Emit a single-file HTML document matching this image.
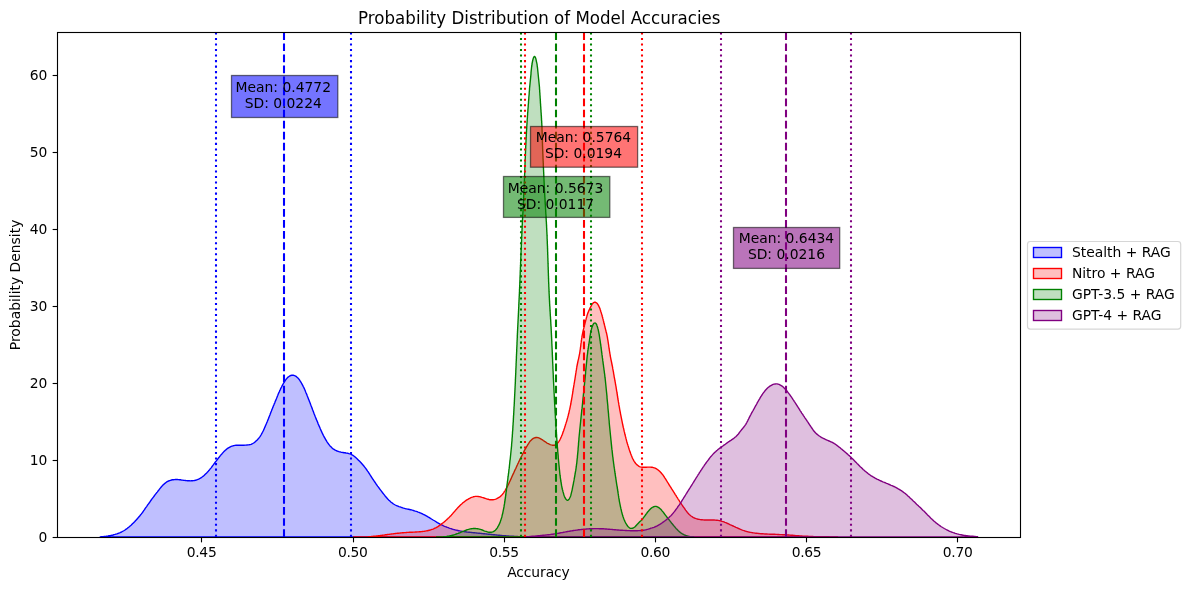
<!DOCTYPE html>
<html lang="en"><head><meta charset="utf-8"><title>Probability Distribution of Model Accuracies</title>
<style>html,body{margin:0;padding:0;background:#fff}svg{display:block}text{font-family:"DejaVu Sans","Liberation Sans",sans-serif;fill:#000}</style></head><body>
<svg width="1189" height="590" viewBox="0 0 1189 590">
<rect width="1189" height="590" fill="#fff"/>
<defs><clipPath id="ax"><rect x="57.0" y="32.2" width="963.2" height="504.7"/></clipPath></defs>
<g clip-path="url(#ax)">
<path d="M100.2 536.9L100.2 536.9L101.2 536.8L102.2 536.7L103.2 536.6L104.2 536.5L105.2 536.4L106.2 536.3L107.2 536.1L108.1 536.0L109.1 535.8L110.1 535.6L111.1 535.4L112.1 535.2L113.1 535.0L114.0 534.7L115.0 534.4L115.9 534.1L116.9 533.8L117.8 533.5L118.8 533.1L119.7 532.8L120.6 532.4L121.6 532.0L122.4 531.5L123.3 531.0L124.2 530.5L125.0 530.0L125.8 529.4L126.6 528.9L127.4 528.3L128.2 527.6L129.0 527.0L129.8 526.3L130.5 525.7L131.3 525.0L132.0 524.3L132.7 523.6L133.4 522.9L134.1 522.2L134.8 521.5L135.5 520.7L136.2 520.0L136.9 519.3L137.5 518.5L138.2 517.8L138.8 517.0L139.5 516.2L140.1 515.5L140.7 514.7L141.4 513.9L142.0 513.1L142.6 512.3L143.2 511.5L143.7 510.7L144.3 509.9L144.9 509.0L145.4 508.2L146.0 507.4L146.6 506.6L147.2 505.7L147.7 504.9L148.3 504.1L148.9 503.3L149.5 502.5L150.1 501.7L150.6 500.8L151.2 500.0L151.8 499.2L152.4 498.4L153.0 497.6L153.6 496.8L154.2 496.0L154.8 495.2L155.4 494.4L156.0 493.6L156.6 492.8L157.2 492.1L157.8 491.3L158.4 490.5L159.1 489.7L159.7 488.9L160.3 488.1L161.0 487.3L161.6 486.5L162.3 485.8L163.0 485.0L163.7 484.4L164.4 483.7L165.2 483.1L166.0 482.5L166.8 481.9L167.7 481.4L168.6 481.0L169.6 480.6L170.5 480.3L171.5 480.0L172.4 479.8L173.4 479.7L174.4 479.6L175.5 479.5L176.5 479.5L177.4 479.5L178.4 479.6L179.4 479.7L180.4 479.8L181.4 480.0L182.4 480.1L183.4 480.3L184.4 480.4L185.4 480.5L186.4 480.6L187.4 480.7L188.4 480.8L189.4 480.8L190.4 480.9L191.4 480.8L192.4 480.8L193.4 480.6L194.4 480.5L195.4 480.3L196.3 480.0L197.3 479.7L198.2 479.3L199.1 478.9L200.0 478.4L200.8 477.9L201.7 477.3L202.5 476.7L203.3 476.1L204.1 475.5L204.8 474.8L205.5 474.1L206.2 473.4L206.9 472.7L207.6 471.9L208.3 471.2L208.9 470.4L209.6 469.7L210.2 468.9L210.9 468.1L211.5 467.3L212.1 466.5L212.7 465.7L213.3 464.9L213.8 464.1L214.4 463.3L215.0 462.5L215.6 461.7L216.3 460.9L216.9 460.1L217.5 459.3L218.1 458.5L218.7 457.7L219.3 457.0L219.9 456.2L220.6 455.4L221.2 454.6L221.9 453.9L222.5 453.1L223.2 452.4L223.9 451.6L224.6 450.9L225.3 450.2L226.1 449.6L226.8 449.0L227.6 448.4L228.5 447.8L229.4 447.3L230.3 446.8L231.2 446.4L232.1 446.1L233.1 445.8L234.0 445.6L235.0 445.4L236.0 445.3L237.0 445.2L238.0 445.2L239.0 445.2L240.0 445.2L241.0 445.2L242.0 445.2L243.0 445.2L244.0 445.2L245.0 445.1L246.0 445.1L247.0 445.0L248.0 444.9L249.0 444.8L250.0 444.6L251.0 444.3L251.9 444.0L252.8 443.5L253.7 443.0L254.5 442.4L255.3 441.8L256.0 441.1L256.7 440.4L257.4 439.7L258.1 438.9L258.8 438.2L259.4 437.4L260.0 436.6L260.5 435.8L261.0 435.0L261.5 434.1L262.0 433.2L262.5 432.3L262.9 431.5L263.4 430.5L263.8 429.6L264.2 428.7L264.6 427.8L265.0 426.9L265.4 425.9L265.8 425.0L266.2 424.1L266.6 423.1L267.0 422.2L267.4 421.3L267.8 420.3L268.2 419.4L268.5 418.5L268.9 417.6L269.2 416.6L269.6 415.7L270.0 414.8L270.3 413.8L270.7 412.9L271.0 412.0L271.4 411.1L271.8 410.1L272.1 409.2L272.5 408.3L272.9 407.4L273.2 406.4L273.6 405.5L274.0 404.6L274.4 403.6L274.8 402.7L275.1 401.8L275.5 400.9L275.9 399.9L276.3 399.0L276.6 398.1L277.0 397.2L277.4 396.2L277.8 395.3L278.1 394.4L278.5 393.5L278.9 392.6L279.3 391.7L279.7 390.7L280.2 389.8L280.6 388.9L281.0 388.0L281.5 387.1L281.9 386.2L282.4 385.3L282.9 384.4L283.4 383.5L283.9 382.7L284.4 381.8L284.9 381.0L285.5 380.1L286.1 379.3L286.7 378.6L287.4 377.8L288.1 377.1L289.0 376.5L289.9 375.9L290.8 375.5L291.8 375.3L292.7 375.2L293.6 375.3L294.6 375.7L295.6 376.1L296.5 376.7L297.3 377.4L298.0 378.1L298.6 378.8L299.3 379.6L299.8 380.4L300.4 381.3L300.9 382.1L301.4 383.0L301.9 383.9L302.4 384.8L302.9 385.7L303.3 386.6L303.8 387.5L304.2 388.4L304.6 389.3L305.0 390.2L305.4 391.1L305.7 392.0L306.1 393.0L306.5 393.9L306.9 394.8L307.2 395.8L307.6 396.7L308.0 397.6L308.3 398.6L308.7 399.5L309.1 400.4L309.4 401.4L309.8 402.3L310.2 403.2L310.5 404.2L310.9 405.1L311.2 406.0L311.6 407.0L311.9 407.9L312.3 408.8L312.6 409.8L313.0 410.7L313.3 411.6L313.7 412.6L314.0 413.5L314.4 414.4L314.8 415.4L315.1 416.3L315.5 417.2L315.9 418.2L316.2 419.1L316.6 420.0L317.0 420.9L317.4 421.8L317.8 422.8L318.1 423.7L318.5 424.6L318.9 425.5L319.3 426.4L319.7 427.3L320.1 428.3L320.5 429.2L320.9 430.1L321.3 431.0L321.7 431.9L322.1 432.8L322.5 433.7L323.0 434.6L323.4 435.5L323.9 436.4L324.4 437.3L324.9 438.2L325.4 439.1L325.9 440.0L326.5 440.9L327.0 441.8L327.6 442.7L328.2 443.5L328.8 444.3L329.4 445.1L330.0 445.9L330.7 446.6L331.4 447.3L332.1 448.0L332.8 448.6L333.6 449.2L334.4 449.7L335.2 450.2L336.2 450.6L337.1 451.0L338.1 451.3L339.1 451.7L340.1 451.9L341.0 452.2L342.0 452.4L343.0 452.5L344.0 452.7L345.0 452.8L346.0 453.0L347.0 453.1L348.0 453.3L348.9 453.6L349.9 453.9L350.8 454.2L351.6 454.7L352.5 455.2L353.4 455.7L354.2 456.3L355.0 456.9L355.8 457.6L356.5 458.3L357.3 459.0L358.0 459.7L358.7 460.4L359.4 461.1L360.1 461.8L360.8 462.5L361.5 463.3L362.1 464.0L362.8 464.8L363.4 465.5L364.1 466.3L364.7 467.1L365.3 467.9L365.9 468.7L366.5 469.5L367.1 470.3L367.6 471.1L368.2 471.9L368.8 472.8L369.3 473.6L369.8 474.4L370.4 475.3L370.9 476.1L371.4 477.0L372.0 477.8L372.5 478.7L373.1 479.5L373.7 480.3L374.2 481.2L374.8 482.0L375.4 482.8L375.9 483.6L376.5 484.5L377.1 485.3L377.6 486.1L378.2 486.9L378.8 487.7L379.4 488.5L380.0 489.3L380.6 490.1L381.2 490.9L381.8 491.7L382.4 492.5L383.0 493.3L383.7 494.1L384.3 494.9L384.9 495.7L385.6 496.5L386.2 497.2L386.9 498.0L387.5 498.7L388.2 499.4L388.9 500.2L389.6 500.8L390.4 501.5L391.1 502.2L391.9 502.8L392.7 503.4L393.5 504.0L394.4 504.5L395.3 505.0L396.1 505.4L397.1 505.8L398.0 506.2L398.9 506.6L399.9 506.9L400.8 507.2L401.8 507.5L402.7 507.8L403.7 508.1L404.6 508.4L405.6 508.7L406.6 508.9L407.6 509.1L408.5 509.3L409.5 509.5L410.5 509.7L411.5 509.9L412.4 510.2L413.4 510.5L414.4 510.8L415.3 511.1L416.3 511.4L417.2 511.7L418.1 512.1L419.1 512.4L420.0 512.8L420.9 513.2L421.8 513.6L422.7 514.0L423.6 514.5L424.5 514.9L425.4 515.4L426.3 515.9L427.2 516.4L428.0 516.9L428.9 517.4L429.7 517.9L430.6 518.4L431.4 519.0L432.3 519.5L433.1 520.0L434.0 520.5L434.9 521.0L435.7 521.5L436.6 522.1L437.4 522.6L438.3 523.1L439.2 523.6L440.0 524.1L440.9 524.5L441.8 525.0L442.7 525.4L443.6 525.9L444.5 526.3L445.5 526.7L446.4 527.0L447.3 527.4L448.3 527.7L449.2 528.1L450.1 528.4L451.1 528.7L452.0 529.0L453.0 529.3L454.0 529.6L454.9 529.8L455.9 530.1L456.9 530.3L457.8 530.5L458.8 530.7L459.8 530.9L460.8 531.1L461.8 531.3L462.8 531.4L463.8 531.6L464.8 531.7L465.7 531.8L466.7 532.0L467.7 532.1L468.7 532.2L469.7 532.3L470.7 532.4L471.7 532.5L472.7 532.6L473.7 532.7L474.7 532.8L475.7 532.9L476.7 533.0L477.7 533.1L478.7 533.2L479.7 533.3L480.7 533.4L481.7 533.5L482.6 533.6L483.6 533.7L484.6 533.8L485.6 533.9L486.6 534.0L487.6 534.1L488.6 534.2L489.6 534.3L490.6 534.4L491.6 534.5L492.6 534.6L493.6 534.7L494.6 534.8L495.6 534.9L496.6 535.0L497.6 535.1L498.6 535.2L499.6 535.3L500.6 535.4L501.6 535.5L502.6 535.6L503.6 535.6L504.5 535.7L505.5 535.8L506.5 535.9L507.5 536.0L508.5 536.0L509.5 536.1L510.5 536.2L511.5 536.2L512.5 536.3L513.5 536.3L514.5 536.4L515.5 536.4L516.5 536.5L517.5 536.5L518.5 536.6L519.5 536.6L520.5 536.6L521.5 536.7L522.5 536.7L523.5 536.7L524.5 536.8L525.5 536.8L526.5 536.8L527.5 536.8L528.5 536.8L529.5 536.9L530.5 536.9L531.5 536.9L532.5 536.9L533.5 536.9L534.5 536.9L535.5 536.9L536.5 536.9L537.5 536.9L538.5 536.9L539.5 536.9L540.0 536.9L540.0 536.9Z" fill="#0000ff" fill-opacity="0.25" stroke="#0000ff" stroke-width="1.39" stroke-linejoin="round"/>
<path d="M353.6 536.9L353.6 536.9L354.6 536.9L355.6 536.9L356.6 536.9L357.6 536.9L358.6 536.9L359.6 536.9L360.6 536.9L361.6 536.9L362.6 536.9L363.6 536.9L364.6 536.9L365.6 536.9L366.6 536.9L367.6 536.9L368.6 536.8L369.6 536.7L370.6 536.6L371.6 536.5L372.6 536.4L373.6 536.3L374.6 536.2L375.6 536.1L376.6 536.0L377.6 535.9L378.6 535.7L379.6 535.6L380.5 535.5L381.5 535.4L382.5 535.2L383.5 535.1L384.5 535.0L385.5 534.8L386.5 534.7L387.5 534.5L388.5 534.4L389.5 534.3L390.5 534.1L391.4 534.0L392.4 533.9L393.4 533.8L394.4 533.6L395.4 533.5L396.4 533.4L397.4 533.3L398.4 533.2L399.4 533.1L400.4 533.0L401.4 532.9L402.4 532.8L403.4 532.7L404.4 532.6L405.4 532.6L406.4 532.5L407.4 532.4L408.4 532.4L409.4 532.3L410.4 532.3L411.4 532.2L412.4 532.2L413.4 532.1L414.4 532.1L415.4 532.0L416.4 532.0L417.4 531.9L418.4 531.9L419.4 531.8L420.4 531.7L421.4 531.6L422.4 531.5L423.3 531.4L424.3 531.3L425.3 531.1L426.3 530.9L427.3 530.7L428.3 530.5L429.3 530.3L430.2 530.0L431.2 529.7L432.1 529.4L433.1 529.1L434.0 528.7L434.9 528.2L435.7 527.8L436.6 527.3L437.5 526.8L438.3 526.3L439.2 525.7L440.0 525.1L440.8 524.5L441.6 523.9L442.4 523.3L443.2 522.7L444.0 522.1L444.8 521.4L445.5 520.8L446.3 520.1L447.0 519.4L447.7 518.8L448.4 518.1L449.2 517.4L449.9 516.6L450.6 515.9L451.3 515.2L451.9 514.4L452.6 513.7L453.2 512.9L453.9 512.2L454.5 511.4L455.2 510.7L455.8 509.9L456.5 509.2L457.2 508.4L457.8 507.7L458.5 507.0L459.3 506.2L460.0 505.5L460.7 504.8L461.4 504.2L462.2 503.5L462.9 502.8L463.7 502.2L464.5 501.6L465.3 501.0L466.1 500.4L466.9 499.8L467.8 499.3L468.6 498.8L469.6 498.3L470.5 497.8L471.4 497.4L472.4 497.1L473.3 496.8L474.3 496.6L475.3 496.4L476.2 496.4L477.2 496.4L478.2 496.5L479.2 496.6L480.2 496.8L481.2 497.1L482.1 497.4L483.1 497.7L484.1 498.0L485.1 498.3L486.1 498.7L487.1 499.0L488.1 499.2L489.0 499.5L490.0 499.7L491.0 499.8L492.0 499.8L492.9 499.8L493.9 499.6L494.8 499.4L495.8 499.1L496.8 498.7L497.7 498.2L498.6 497.7L499.5 497.2L500.3 496.5L501.0 495.9L501.7 495.1L502.4 494.4L503.0 493.6L503.6 492.8L504.1 492.0L504.7 491.1L505.2 490.3L505.7 489.4L506.2 488.5L506.7 487.6L507.2 486.7L507.7 485.8L508.1 484.9L508.6 484.0L509.0 483.1L509.4 482.2L509.8 481.3L510.3 480.4L510.7 479.5L511.1 478.6L511.5 477.7L511.9 476.8L512.3 475.9L512.7 475.0L513.1 474.1L513.6 473.1L514.0 472.2L514.4 471.3L514.8 470.4L515.2 469.5L515.7 468.6L516.1 467.7L516.5 466.8L516.9 465.9L517.3 465.0L517.7 464.0L518.2 463.1L518.6 462.2L519.0 461.3L519.5 460.4L519.9 459.5L520.3 458.6L520.8 457.8L521.2 456.9L521.7 456.0L522.1 455.1L522.6 454.2L523.0 453.3L523.5 452.5L523.9 451.6L524.4 450.7L524.8 449.8L525.3 448.9L525.8 448.1L526.3 447.2L526.8 446.3L527.4 445.4L527.9 444.5L528.5 443.6L529.0 442.8L529.6 441.9L530.2 441.1L530.9 440.4L531.6 439.7L532.3 439.1L533.1 438.5L534.0 438.1L535.0 437.7L536.0 437.5L537.0 437.5L537.9 437.6L538.8 437.9L539.8 438.3L540.7 438.8L541.6 439.4L542.5 439.9L543.3 440.5L544.2 441.1L545.0 441.7L545.9 442.2L546.7 442.8L547.5 443.3L548.4 443.7L549.3 444.2L550.2 444.6L551.2 444.9L552.3 445.2L553.3 445.3L554.2 445.3L555.1 445.0L555.9 444.6L556.7 444.0L557.4 443.3L558.1 442.5L558.8 441.6L559.4 440.7L559.9 439.8L560.4 438.8L560.8 437.9L561.2 437.0L561.6 436.0L562.0 435.1L562.4 434.2L562.7 433.2L563.0 432.3L563.4 431.4L563.7 430.5L564.0 429.5L564.3 428.6L564.6 427.7L564.9 426.7L565.2 425.8L565.5 424.8L565.8 423.9L566.1 422.9L566.4 422.0L566.7 421.0L567.0 420.1L567.2 419.1L567.5 418.1L567.8 417.2L568.0 416.2L568.3 415.2L568.5 414.2L568.8 413.3L569.0 412.3L569.2 411.3L569.4 410.3L569.7 409.4L569.9 408.4L570.1 407.4L570.3 406.4L570.5 405.4L570.7 404.5L570.9 403.5L571.0 402.5L571.2 401.5L571.4 400.5L571.6 399.5L571.7 398.6L571.9 397.6L572.1 396.6L572.2 395.6L572.4 394.6L572.6 393.6L572.7 392.6L572.9 391.7L573.0 390.7L573.2 389.7L573.3 388.7L573.5 387.7L573.7 386.7L573.8 385.7L574.0 384.7L574.1 383.8L574.3 382.8L574.5 381.8L574.6 380.8L574.8 379.8L575.0 378.8L575.1 377.8L575.3 376.8L575.4 375.8L575.6 374.8L575.7 373.9L575.9 372.9L576.0 371.9L576.2 370.9L576.4 369.9L576.5 368.9L576.7 367.9L576.8 366.9L577.0 366.0L577.2 365.0L577.4 364.0L577.6 363.0L577.8 362.0L578.0 361.1L578.2 360.1L578.5 359.1L578.7 358.2L578.9 357.2L579.1 356.2L579.3 355.2L579.5 354.2L579.7 353.3L579.8 352.3L580.0 351.3L580.1 350.3L580.3 349.3L580.4 348.3L580.5 347.3L580.7 346.3L580.8 345.3L580.9 344.3L581.0 343.4L581.2 342.4L581.3 341.4L581.4 340.4L581.6 339.4L581.7 338.4L581.9 337.4L582.0 336.4L582.2 335.4L582.4 334.4L582.6 333.5L582.8 332.5L583.0 331.5L583.2 330.5L583.4 329.6L583.7 328.6L583.9 327.6L584.2 326.6L584.4 325.7L584.6 324.7L584.9 323.7L585.1 322.8L585.4 321.8L585.6 320.8L585.9 319.9L586.1 318.9L586.4 317.9L586.7 317.0L586.9 316.0L587.2 315.0L587.5 314.1L587.9 313.1L588.2 312.2L588.6 311.3L589.0 310.4L589.4 309.5L589.8 308.6L590.3 307.7L590.7 306.8L591.2 305.9L591.6 305.0L592.2 304.2L592.8 303.3L593.7 302.6L594.6 302.2L595.5 302.3L596.4 302.8L597.2 303.5L597.8 304.4L598.3 305.2L598.8 306.1L599.2 307.0L599.6 307.9L600.0 308.8L600.3 309.8L600.6 310.7L600.9 311.7L601.2 312.6L601.5 313.6L601.8 314.6L602.1 315.5L602.3 316.5L602.6 317.5L602.8 318.4L603.1 319.4L603.3 320.4L603.6 321.3L603.8 322.3L604.0 323.3L604.3 324.2L604.5 325.2L604.8 326.2L605.0 327.2L605.2 328.1L605.5 329.1L605.7 330.1L606.0 331.0L606.2 332.0L606.5 333.0L606.7 333.9L606.9 334.9L607.1 335.9L607.3 336.9L607.5 337.9L607.6 338.8L607.8 339.8L608.0 340.8L608.1 341.8L608.3 342.8L608.4 343.8L608.6 344.8L608.7 345.8L608.8 346.8L609.0 347.7L609.1 348.7L609.3 349.7L609.4 350.7L609.6 351.7L609.7 352.7L609.9 353.7L610.1 354.7L610.2 355.7L610.4 356.6L610.6 357.6L610.8 358.6L611.0 359.6L611.2 360.6L611.4 361.5L611.6 362.5L611.8 363.5L612.0 364.5L612.2 365.5L612.4 366.4L612.6 367.4L612.7 368.4L612.9 369.4L613.1 370.4L613.3 371.4L613.5 372.3L613.6 373.3L613.8 374.3L614.0 375.3L614.1 376.3L614.3 377.3L614.5 378.3L614.7 379.2L614.8 380.2L615.0 381.2L615.2 382.2L615.4 383.2L615.5 384.2L615.7 385.2L615.9 386.1L616.1 387.1L616.2 388.1L616.4 389.1L616.5 390.1L616.7 391.1L616.9 392.1L617.0 393.0L617.2 394.0L617.3 395.0L617.5 396.0L617.6 397.0L617.8 398.0L617.9 399.0L618.1 400.0L618.3 400.9L618.4 401.9L618.6 402.9L618.8 403.9L618.9 404.9L619.1 405.9L619.3 406.9L619.5 407.9L619.6 408.8L619.8 409.8L620.0 410.8L620.2 411.8L620.4 412.8L620.5 413.8L620.7 414.7L620.9 415.7L621.1 416.7L621.3 417.7L621.5 418.7L621.7 419.6L621.9 420.6L622.1 421.6L622.3 422.6L622.5 423.6L622.7 424.5L622.9 425.5L623.1 426.5L623.3 427.5L623.6 428.4L623.8 429.4L624.0 430.4L624.2 431.4L624.5 432.3L624.7 433.3L624.9 434.3L625.2 435.3L625.4 436.2L625.7 437.2L625.9 438.2L626.2 439.1L626.4 440.1L626.7 441.1L626.9 442.0L627.2 443.0L627.5 444.0L627.8 444.9L628.1 445.9L628.4 446.8L628.7 447.8L629.0 448.7L629.3 449.7L629.6 450.6L629.9 451.6L630.3 452.5L630.6 453.4L631.0 454.4L631.3 455.3L631.7 456.2L632.1 457.2L632.5 458.1L632.9 459.0L633.4 459.9L633.9 460.8L634.4 461.6L635.0 462.5L635.6 463.4L636.3 464.1L637.1 464.9L637.9 465.5L638.7 466.1L639.5 466.6L640.3 466.9L641.2 467.1L642.2 467.3L643.2 467.3L644.3 467.3L645.3 467.2L646.4 467.2L647.4 467.1L648.4 467.1L649.4 467.1L650.4 467.1L651.5 467.2L652.5 467.3L653.4 467.6L654.3 467.9L655.2 468.2L656.1 468.7L657.0 469.2L657.8 469.8L658.6 470.4L659.4 471.1L660.1 471.8L660.8 472.5L661.5 473.3L662.1 474.1L662.8 474.8L663.4 475.6L663.9 476.5L664.5 477.3L665.0 478.1L665.6 479.0L666.1 479.8L666.6 480.7L667.1 481.5L667.6 482.4L668.2 483.2L668.7 484.1L669.2 485.0L669.8 485.8L670.3 486.7L670.9 487.5L671.4 488.4L671.9 489.2L672.5 490.1L673.0 490.9L673.5 491.7L674.1 492.6L674.6 493.4L675.1 494.3L675.7 495.1L676.2 495.9L676.7 496.8L677.3 497.6L677.8 498.5L678.3 499.3L678.9 500.2L679.4 501.0L679.9 501.9L680.5 502.7L681.0 503.5L681.6 504.4L682.2 505.2L682.7 506.0L683.3 506.8L683.9 507.6L684.5 508.4L685.1 509.3L685.6 510.1L686.2 510.9L686.8 511.7L687.4 512.5L688.1 513.2L688.8 514.0L689.5 514.7L690.2 515.3L691.0 516.0L691.9 516.5L692.7 517.1L693.6 517.6L694.5 518.0L695.4 518.4L696.3 518.7L697.3 519.0L698.3 519.3L699.3 519.4L700.2 519.6L701.2 519.7L702.2 519.8L703.2 519.9L704.2 520.0L705.2 520.0L706.2 520.0L707.2 520.0L708.2 520.0L709.2 520.0L710.2 520.0L711.2 520.0L712.2 520.0L713.2 520.0L714.2 520.0L715.2 520.1L716.2 520.2L717.2 520.3L718.2 520.4L719.2 520.6L720.2 520.8L721.2 521.0L722.1 521.3L723.1 521.6L724.0 521.9L724.9 522.3L725.9 522.7L726.8 523.1L727.7 523.5L728.6 523.9L729.5 524.3L730.4 524.8L731.3 525.2L732.2 525.6L733.1 526.0L734.0 526.4L735.0 526.8L735.9 527.3L736.8 527.7L737.7 528.1L738.6 528.5L739.5 528.9L740.4 529.3L741.3 529.7L742.3 530.1L743.2 530.4L744.2 530.7L745.1 531.1L746.1 531.3L747.0 531.6L748.0 531.8L749.0 532.1L750.0 532.3L750.9 532.4L751.9 532.6L752.9 532.8L753.9 532.9L754.9 533.1L755.9 533.2L756.9 533.3L757.9 533.4L758.9 533.5L759.9 533.6L760.9 533.7L761.9 533.8L762.9 533.8L763.9 533.9L764.9 534.0L765.9 534.0L766.9 534.0L767.9 534.1L768.9 534.1L769.9 534.2L770.9 534.2L771.9 534.2L772.9 534.3L773.9 534.3L774.9 534.3L775.8 534.4L776.8 534.4L777.8 534.5L778.8 534.5L779.8 534.6L780.8 534.6L781.8 534.6L782.8 534.7L783.8 534.7L784.8 534.8L785.8 534.9L786.8 534.9L787.8 535.0L788.8 535.0L789.8 535.1L790.8 535.2L791.8 535.3L792.8 535.3L793.8 535.4L794.8 535.5L795.8 535.6L796.8 535.7L797.8 535.7L798.8 535.8L799.8 535.9L800.8 536.0L801.8 536.0L802.8 536.1L803.8 536.1L804.8 536.2L805.8 536.2L806.8 536.3L807.8 536.3L808.8 536.4L809.8 536.4L810.8 536.5L811.8 536.5L812.8 536.5L813.8 536.6L814.8 536.6L815.8 536.6L816.8 536.6L817.8 536.7L818.8 536.7L819.8 536.7L820.8 536.7L821.8 536.7L822.8 536.7L823.8 536.8L824.8 536.8L825.8 536.8L826.8 536.8L827.8 536.8L828.8 536.8L829.8 536.9L830.8 536.9L831.8 536.9L832.8 536.9L833.8 536.9L834.8 536.9L835.8 536.9L836.8 536.9L837.6 536.9L837.6 536.9Z" fill="#ff0000" fill-opacity="0.25" stroke="#ff0000" stroke-width="1.39" stroke-linejoin="round"/>
<path d="M436.6 536.9L436.6 536.9L437.6 536.9L438.6 536.9L439.6 536.9L440.7 536.9L441.7 536.9L442.7 536.9L443.7 536.8L444.7 536.7L445.6 536.6L446.6 536.5L447.6 536.3L448.6 536.1L449.6 535.9L450.5 535.7L451.5 535.5L452.5 535.2L453.4 535.0L454.4 534.7L455.3 534.4L456.3 534.0L457.2 533.7L458.2 533.4L459.1 533.0L460.1 532.6L461.0 532.2L461.9 531.8L462.8 531.4L463.7 531.1L464.7 530.7L465.6 530.3L466.5 530.0L467.5 529.7L468.5 529.4L469.4 529.1L470.4 528.9L471.4 528.7L472.4 528.6L473.4 528.5L474.4 528.5L475.4 528.5L476.4 528.6L477.4 528.7L478.4 528.9L479.3 529.1L480.3 529.4L481.3 529.7L482.2 530.0L483.2 530.4L484.1 530.8L485.0 531.1L486.0 531.4L486.9 531.7L487.9 532.0L488.9 532.2L490.0 532.3L491.0 532.3L492.0 532.1L492.8 531.9L493.7 531.4L494.5 530.9L495.3 530.2L496.0 529.5L496.7 528.6L497.3 527.8L497.8 526.9L498.3 526.0L498.8 525.1L499.3 524.2L499.7 523.3L500.1 522.4L500.4 521.4L500.7 520.5L501.0 519.6L501.3 518.6L501.6 517.7L501.9 516.7L502.1 515.7L502.3 514.8L502.6 513.8L502.8 512.8L503.0 511.9L503.2 510.9L503.4 509.9L503.6 508.9L503.8 507.9L504.0 506.9L504.1 505.9L504.3 504.9L504.5 503.9L504.6 502.9L504.8 502.0L504.9 501.0L505.1 500.0L505.2 499.0L505.4 498.0L505.5 497.0L505.6 496.0L505.8 495.0L505.9 494.0L506.0 493.0L506.1 492.0L506.3 491.1L506.4 490.1L506.5 489.1L506.6 488.1L506.8 487.1L506.9 486.1L507.0 485.1L507.1 484.1L507.3 483.1L507.4 482.1L507.5 481.1L507.7 480.2L507.8 479.2L507.9 478.2L508.0 477.2L508.2 476.2L508.3 475.2L508.4 474.2L508.6 473.2L508.7 472.2L508.8 471.2L508.9 470.2L509.0 469.2L509.2 468.2L509.3 467.3L509.4 466.3L509.5 465.3L509.6 464.3L509.7 463.3L509.8 462.3L509.9 461.3L510.0 460.3L510.2 459.3L510.3 458.3L510.4 457.3L510.5 456.3L510.6 455.3L510.7 454.3L510.8 453.3L510.9 452.3L511.0 451.3L511.1 450.3L511.2 449.4L511.3 448.4L511.4 447.4L511.5 446.4L511.6 445.4L511.6 444.4L511.7 443.4L511.8 442.4L511.9 441.4L512.0 440.4L512.0 439.4L512.1 438.4L512.2 437.4L512.3 436.4L512.3 435.4L512.4 434.4L512.5 433.4L512.5 432.4L512.6 431.4L512.7 430.4L512.8 429.4L512.8 428.4L512.9 427.4L512.9 426.4L513.0 425.4L513.1 424.4L513.1 423.4L513.2 422.4L513.3 421.4L513.3 420.4L513.4 419.4L513.4 418.4L513.5 417.4L513.5 416.4L513.6 415.4L513.7 414.4L513.7 413.5L513.8 412.5L513.8 411.5L513.9 410.5L513.9 409.5L514.0 408.5L514.0 407.5L514.1 406.5L514.2 405.5L514.2 404.5L514.3 403.5L514.3 402.5L514.4 401.5L514.4 400.5L514.5 399.5L514.5 398.5L514.6 397.5L514.6 396.5L514.7 395.5L514.7 394.5L514.8 393.5L514.8 392.5L514.9 391.5L514.9 390.5L515.0 389.5L515.0 388.5L515.1 387.5L515.1 386.5L515.2 385.5L515.2 384.5L515.3 383.5L515.3 382.5L515.4 381.5L515.4 380.5L515.4 379.5L515.5 378.5L515.5 377.5L515.6 376.5L515.6 375.5L515.7 374.5L515.7 373.5L515.8 372.5L515.8 371.5L515.8 370.5L515.9 369.5L515.9 368.5L516.0 367.5L516.0 366.5L516.1 365.5L516.1 364.5L516.1 363.5L516.2 362.5L516.2 361.5L516.3 360.5L516.3 359.5L516.4 358.5L516.4 357.5L516.4 356.5L516.5 355.5L516.5 354.5L516.6 353.5L516.6 352.5L516.7 351.5L516.7 350.5L516.7 349.5L516.8 348.5L516.8 347.5L516.9 346.5L516.9 345.5L517.0 344.5L517.0 343.5L517.0 342.5L517.1 341.5L517.1 340.5L517.2 339.5L517.2 338.5L517.3 337.5L517.3 336.5L517.3 335.5L517.4 334.5L517.4 333.5L517.5 332.5L517.5 331.5L517.6 330.5L517.6 329.5L517.7 328.5L517.7 327.5L517.8 326.5L517.8 325.5L517.9 324.5L517.9 323.5L518.0 322.5L518.0 321.5L518.1 320.5L518.1 319.5L518.2 318.5L518.2 317.6L518.3 316.6L518.3 315.6L518.4 314.6L518.4 313.6L518.5 312.6L518.5 311.6L518.6 310.6L518.6 309.6L518.7 308.6L518.7 307.6L518.8 306.6L518.8 305.6L518.8 304.6L518.9 303.6L518.9 302.6L519.0 301.6L519.0 300.6L519.1 299.6L519.1 298.6L519.2 297.6L519.2 296.6L519.3 295.6L519.3 294.6L519.4 293.6L519.4 292.6L519.5 291.6L519.5 290.6L519.5 289.6L519.6 288.6L519.6 287.6L519.7 286.6L519.7 285.6L519.8 284.6L519.8 283.6L519.8 282.6L519.9 281.6L519.9 280.6L520.0 279.6L520.0 278.6L520.0 277.6L520.1 276.6L520.1 275.6L520.2 274.6L520.2 273.6L520.2 272.6L520.3 271.6L520.3 270.6L520.4 269.6L520.4 268.6L520.4 267.6L520.5 266.6L520.5 265.6L520.6 264.6L520.6 263.6L520.6 262.6L520.7 261.6L520.7 260.6L520.8 259.6L520.8 258.6L520.8 257.6L520.9 256.6L520.9 255.6L521.0 254.6L521.0 253.6L521.0 252.6L521.1 251.6L521.1 250.6L521.2 249.6L521.2 248.6L521.3 247.6L521.3 246.6L521.3 245.6L521.4 244.6L521.4 243.6L521.5 242.6L521.5 241.6L521.6 240.6L521.6 239.6L521.6 238.6L521.7 237.6L521.7 236.6L521.8 235.6L521.8 234.6L521.9 233.6L521.9 232.6L522.0 231.6L522.0 230.6L522.0 229.6L522.1 228.6L522.1 227.6L522.2 226.6L522.2 225.6L522.3 224.6L522.3 223.6L522.4 222.6L522.4 221.6L522.5 220.6L522.5 219.6L522.6 218.6L522.6 217.6L522.7 216.7L522.7 215.7L522.8 214.7L522.8 213.7L522.9 212.7L523.0 211.7L523.0 210.7L523.1 209.7L523.1 208.7L523.2 207.7L523.2 206.7L523.3 205.7L523.3 204.7L523.4 203.7L523.4 202.7L523.5 201.7L523.5 200.7L523.6 199.7L523.6 198.7L523.6 197.7L523.7 196.7L523.7 195.7L523.8 194.7L523.8 193.7L523.9 192.7L523.9 191.7L524.0 190.7L524.0 189.7L524.1 188.7L524.1 187.7L524.1 186.7L524.2 185.7L524.2 184.7L524.3 183.7L524.3 182.7L524.3 181.7L524.4 180.7L524.4 179.7L524.5 178.7L524.5 177.7L524.5 176.7L524.6 175.7L524.6 174.7L524.7 173.7L524.7 172.7L524.7 171.7L524.8 170.7L524.8 169.7L524.8 168.7L524.9 167.7L524.9 166.7L525.0 165.7L525.0 164.7L525.0 163.7L525.1 162.7L525.1 161.7L525.2 160.7L525.2 159.7L525.2 158.7L525.3 157.7L525.3 156.7L525.4 155.7L525.4 154.7L525.4 153.7L525.5 152.7L525.5 151.7L525.6 150.7L525.6 149.7L525.7 148.7L525.7 147.7L525.7 146.7L525.8 145.7L525.8 144.7L525.9 143.7L525.9 142.7L526.0 141.7L526.0 140.7L526.1 139.7L526.1 138.7L526.2 137.7L526.2 136.7L526.3 135.7L526.3 134.7L526.4 133.7L526.4 132.7L526.5 131.7L526.5 130.7L526.6 129.7L526.7 128.7L526.7 127.7L526.8 126.7L526.8 125.7L526.9 124.7L527.0 123.8L527.0 122.8L527.1 121.8L527.2 120.8L527.2 119.8L527.3 118.8L527.4 117.8L527.4 116.8L527.5 115.8L527.6 114.8L527.6 113.8L527.7 112.8L527.8 111.8L527.9 110.8L527.9 109.8L528.0 108.8L528.1 107.8L528.2 106.8L528.2 105.8L528.3 104.8L528.4 103.8L528.5 102.8L528.5 101.8L528.6 100.8L528.7 99.8L528.8 98.8L528.8 97.8L528.9 96.8L529.0 95.8L529.1 94.8L529.2 93.8L529.2 92.8L529.3 91.8L529.4 90.8L529.5 89.8L529.5 88.8L529.6 87.8L529.7 86.9L529.8 85.9L529.9 84.9L530.0 83.9L530.1 82.9L530.2 81.9L530.3 80.9L530.4 79.9L530.5 78.9L530.6 77.9L530.7 76.9L530.8 75.9L530.9 74.9L531.0 73.9L531.0 72.9L531.1 71.9L531.2 70.9L531.3 69.9L531.4 69.0L531.5 68.0L531.6 67.0L531.8 66.0L531.9 65.0L532.1 64.0L532.2 63.0L532.4 62.0L532.6 61.0L532.8 60.0L533.1 59.1L533.3 58.2L533.7 57.2L534.4 56.4L535.2 57.0L535.6 58.0L535.9 58.9L536.1 59.8L536.3 60.8L536.5 61.8L536.7 62.7L536.9 63.7L537.1 64.7L537.2 65.7L537.3 66.7L537.5 67.7L537.6 68.7L537.7 69.7L537.8 70.7L537.9 71.7L538.0 72.7L538.1 73.7L538.2 74.7L538.3 75.7L538.4 76.7L538.5 77.7L538.6 78.7L538.7 79.6L538.8 80.6L538.9 81.6L539.0 82.6L539.1 83.6L539.2 84.6L539.3 85.6L539.4 86.6L539.5 87.6L539.5 88.6L539.6 89.6L539.7 90.6L539.7 91.6L539.8 92.6L539.9 93.6L539.9 94.6L540.0 95.6L540.1 96.6L540.1 97.6L540.2 98.6L540.3 99.6L540.3 100.6L540.4 101.6L540.4 102.6L540.5 103.6L540.6 104.6L540.6 105.6L540.7 106.6L540.8 107.6L540.8 108.6L540.9 109.6L541.0 110.6L541.0 111.6L541.1 112.6L541.2 113.6L541.2 114.6L541.3 115.6L541.4 116.6L541.4 117.6L541.5 118.6L541.5 119.6L541.6 120.6L541.7 121.5L541.7 122.5L541.8 123.5L541.8 124.5L541.9 125.5L541.9 126.5L542.0 127.5L542.0 128.5L542.0 129.5L542.1 130.5L542.1 131.5L542.1 132.5L542.2 133.5L542.2 134.5L542.2 135.5L542.3 136.5L542.3 137.5L542.3 138.5L542.4 139.5L542.4 140.5L542.4 141.5L542.4 142.5L542.5 143.5L542.5 144.5L542.5 145.5L542.6 146.5L542.6 147.5L542.6 148.5L542.7 149.5L542.7 150.5L542.8 151.5L542.8 152.5L542.8 153.5L542.9 154.5L542.9 155.5L543.0 156.5L543.0 157.5L543.0 158.5L543.1 159.5L543.1 160.5L543.2 161.5L543.2 162.5L543.3 163.5L543.3 164.5L543.3 165.5L543.4 166.5L543.4 167.5L543.5 168.5L543.5 169.5L543.6 170.5L543.6 171.5L543.7 172.5L543.7 173.5L543.8 174.5L543.8 175.5L543.8 176.5L543.9 177.5L543.9 178.5L544.0 179.5L544.0 180.5L544.1 181.5L544.1 182.5L544.2 183.5L544.2 184.5L544.3 185.5L544.3 186.5L544.4 187.5L544.4 188.5L544.5 189.5L544.5 190.5L544.6 191.5L544.6 192.5L544.7 193.5L544.7 194.5L544.8 195.5L544.8 196.5L544.9 197.5L545.0 198.5L545.0 199.5L545.1 200.5L545.1 201.5L545.2 202.5L545.2 203.5L545.3 204.5L545.4 205.5L545.4 206.5L545.5 207.5L545.5 208.5L545.6 209.5L545.7 210.5L545.7 211.5L545.8 212.5L545.8 213.4L545.9 214.4L546.0 215.4L546.0 216.4L546.1 217.4L546.1 218.4L546.2 219.4L546.2 220.4L546.3 221.4L546.4 222.4L546.4 223.4L546.5 224.4L546.5 225.4L546.6 226.4L546.6 227.4L546.7 228.4L546.7 229.4L546.8 230.4L546.8 231.4L546.9 232.4L546.9 233.4L547.0 234.4L547.0 235.4L547.1 236.4L547.1 237.4L547.1 238.4L547.2 239.4L547.2 240.4L547.3 241.4L547.3 242.4L547.3 243.4L547.4 244.4L547.4 245.4L547.5 246.4L547.5 247.4L547.5 248.4L547.6 249.4L547.6 250.4L547.6 251.4L547.7 252.4L547.7 253.4L547.7 254.4L547.8 255.4L547.8 256.4L547.8 257.4L547.9 258.4L547.9 259.4L547.9 260.4L548.0 261.4L548.0 262.4L548.0 263.4L548.1 264.4L548.1 265.4L548.1 266.4L548.2 267.4L548.2 268.4L548.2 269.4L548.3 270.4L548.3 271.4L548.3 272.4L548.4 273.4L548.4 274.4L548.4 275.4L548.5 276.4L548.5 277.4L548.5 278.4L548.6 279.4L548.6 280.4L548.6 281.4L548.7 282.4L548.7 283.4L548.8 284.4L548.8 285.4L548.8 286.4L548.9 287.4L548.9 288.4L549.0 289.4L549.0 290.4L549.0 291.4L549.1 292.4L549.1 293.4L549.2 294.4L549.2 295.4L549.3 296.4L549.3 297.4L549.4 298.4L549.4 299.4L549.5 300.4L549.5 301.4L549.6 302.4L549.6 303.4L549.7 304.4L549.7 305.4L549.8 306.4L549.9 307.4L549.9 308.4L550.0 309.4L550.0 310.4L550.1 311.4L550.2 312.4L550.2 313.4L550.3 314.3L550.3 315.3L550.4 316.3L550.5 317.3L550.5 318.3L550.6 319.3L550.7 320.3L550.7 321.3L550.8 322.3L550.8 323.3L550.9 324.3L550.9 325.3L551.0 326.3L551.1 327.3L551.1 328.3L551.2 329.3L551.2 330.3L551.3 331.3L551.3 332.3L551.4 333.3L551.4 334.3L551.5 335.3L551.5 336.3L551.6 337.3L551.6 338.3L551.7 339.3L551.7 340.3L551.8 341.3L551.8 342.3L551.8 343.3L551.9 344.3L551.9 345.3L552.0 346.3L552.0 347.3L552.1 348.3L552.1 349.3L552.2 350.3L552.2 351.3L552.3 352.3L552.3 353.3L552.3 354.3L552.4 355.3L552.4 356.3L552.5 357.3L552.5 358.3L552.6 359.3L552.6 360.3L552.6 361.3L552.7 362.3L552.7 363.3L552.8 364.3L552.8 365.3L552.9 366.3L552.9 367.3L552.9 368.3L553.0 369.3L553.0 370.3L553.1 371.3L553.1 372.3L553.2 373.3L553.2 374.3L553.3 375.3L553.3 376.3L553.3 377.3L553.4 378.3L553.4 379.3L553.5 380.3L553.5 381.3L553.6 382.3L553.6 383.3L553.7 384.3L553.7 385.3L553.8 386.3L553.8 387.3L553.9 388.3L553.9 389.3L554.0 390.3L554.0 391.3L554.1 392.3L554.1 393.3L554.2 394.3L554.2 395.3L554.3 396.3L554.3 397.3L554.4 398.3L554.4 399.3L554.5 400.3L554.5 401.3L554.6 402.3L554.6 403.3L554.7 404.3L554.7 405.3L554.8 406.3L554.9 407.3L554.9 408.3L555.0 409.3L555.0 410.3L555.1 411.3L555.1 412.3L555.2 413.3L555.3 414.3L555.3 415.3L555.4 416.3L555.4 417.3L555.5 418.2L555.5 419.2L555.6 420.2L555.7 421.2L555.7 422.2L555.8 423.2L555.8 424.2L555.9 425.2L556.0 426.2L556.0 427.2L556.1 428.2L556.2 429.2L556.2 430.2L556.3 431.2L556.4 432.2L556.4 433.2L556.5 434.2L556.6 435.2L556.6 436.2L556.7 437.2L556.8 438.2L556.8 439.2L556.9 440.1L557.0 441.1L557.0 442.1L557.1 443.1L557.2 444.1L557.3 445.1L557.3 446.1L557.4 447.1L557.5 448.1L557.6 449.1L557.7 450.1L557.7 451.1L557.8 452.1L557.9 453.1L558.0 454.1L558.1 455.1L558.2 456.1L558.2 457.1L558.3 458.1L558.4 459.1L558.5 460.1L558.6 461.1L558.7 462.1L558.8 463.1L558.9 464.2L559.0 465.2L559.1 466.2L559.2 467.2L559.3 468.2L559.4 469.2L559.5 470.2L559.6 471.2L559.7 472.2L559.8 473.2L559.9 474.2L560.0 475.2L560.2 476.2L560.3 477.2L560.4 478.1L560.6 479.1L560.7 480.1L560.8 481.0L561.0 482.0L561.2 482.9L561.3 483.8L561.5 484.8L561.6 485.7L561.8 486.6L562.0 487.6L562.2 488.5L562.4 489.5L562.7 490.4L562.9 491.4L563.2 492.4L563.5 493.4L563.8 494.5L564.1 495.5L564.5 496.6L565.0 497.7L565.6 498.7L566.3 499.5L567.0 500.1L567.6 500.3L568.2 500.1L568.7 499.6L569.3 498.8L569.8 497.8L570.3 496.7L570.8 495.4L571.1 494.2L571.4 492.9L571.7 491.7L572.0 490.6L572.2 489.5L572.4 488.5L572.6 487.4L572.8 486.4L573.0 485.5L573.2 484.5L573.4 483.6L573.5 482.7L573.7 481.8L573.9 480.9L574.0 480.1L574.2 479.2L574.3 478.3L574.5 477.4L574.7 476.5L574.8 475.6L575.0 474.6L575.2 473.7L575.3 472.7L575.5 471.7L575.7 470.7L575.8 469.8L576.0 468.8L576.1 467.8L576.3 466.7L576.4 465.7L576.5 464.7L576.7 463.7L576.8 462.7L576.9 461.7L577.0 460.6L577.1 459.6L577.2 458.6L577.4 457.6L577.4 456.6L577.5 455.6L577.6 454.6L577.7 453.6L577.8 452.6L577.9 451.6L578.0 450.6L578.1 449.6L578.1 448.6L578.2 447.6L578.3 446.6L578.4 445.6L578.5 444.6L578.5 443.6L578.6 442.6L578.7 441.6L578.8 440.7L578.9 439.7L578.9 438.7L579.0 437.7L579.1 436.7L579.2 435.7L579.3 434.7L579.4 433.7L579.5 432.7L579.6 431.8L579.7 430.8L579.8 429.8L579.9 428.8L580.0 427.8L580.1 426.8L580.2 425.8L580.3 424.8L580.4 423.8L580.5 422.8L580.6 421.8L580.7 420.8L580.8 419.8L580.9 418.8L581.0 417.8L581.1 416.9L581.2 415.9L581.3 414.9L581.4 413.9L581.5 412.9L581.6 411.9L581.7 410.9L581.8 409.9L582.0 408.9L582.1 407.9L582.2 406.9L582.3 405.9L582.4 404.9L582.5 403.9L582.6 402.9L582.7 401.9L582.8 400.9L582.9 399.9L583.0 398.9L583.1 397.9L583.2 396.9L583.3 395.9L583.4 394.9L583.5 393.9L583.6 392.9L583.7 391.9L583.8 391.0L583.9 390.0L584.0 389.0L584.1 388.0L584.2 387.0L584.3 386.0L584.4 385.0L584.5 384.0L584.6 383.0L584.7 382.0L584.8 381.0L584.9 380.0L585.0 379.0L585.1 378.0L585.2 377.0L585.3 376.0L585.4 375.0L585.5 374.0L585.6 373.0L585.6 372.0L585.7 371.0L585.8 370.0L585.9 369.1L586.0 368.1L586.1 367.1L586.2 366.1L586.3 365.1L586.4 364.1L586.5 363.1L586.6 362.1L586.7 361.1L586.8 360.1L586.9 359.1L587.0 358.1L587.1 357.1L587.2 356.1L587.3 355.1L587.5 354.1L587.6 353.1L587.7 352.2L587.8 351.2L588.0 350.2L588.1 349.2L588.3 348.2L588.4 347.2L588.6 346.2L588.7 345.2L588.9 344.2L589.0 343.2L589.2 342.3L589.3 341.3L589.5 340.3L589.6 339.3L589.7 338.3L589.9 337.3L590.0 336.3L590.2 335.3L590.4 334.3L590.5 333.4L590.7 332.4L590.9 331.4L591.1 330.4L591.4 329.4L591.6 328.5L591.9 327.5L592.2 326.6L592.6 325.7L593.0 324.7L593.5 323.8L594.3 323.1L595.2 323.0L596.0 323.6L596.6 324.5L596.9 325.4L597.3 326.4L597.5 327.3L597.8 328.3L598.1 329.2L598.3 330.2L598.5 331.2L598.7 332.2L598.9 333.1L599.1 334.1L599.3 335.1L599.4 336.1L599.6 337.1L599.7 338.1L599.9 339.1L600.0 340.1L600.2 341.0L600.3 342.0L600.4 343.0L600.6 344.0L600.7 345.0L600.9 346.0L601.0 347.0L601.1 348.0L601.3 349.0L601.4 350.0L601.5 351.0L601.6 352.0L601.8 352.9L601.9 353.9L602.0 354.9L602.2 355.9L602.3 356.9L602.4 357.9L602.6 358.9L602.7 359.9L602.8 360.9L603.0 361.9L603.1 362.9L603.2 363.8L603.4 364.8L603.5 365.8L603.6 366.8L603.8 367.8L603.9 368.8L604.0 369.8L604.2 370.8L604.3 371.8L604.4 372.8L604.6 373.8L604.7 374.8L604.8 375.7L604.9 376.7L605.0 377.7L605.2 378.7L605.3 379.7L605.4 380.7L605.5 381.7L605.6 382.7L605.7 383.7L605.8 384.7L605.9 385.7L606.0 386.7L606.1 387.7L606.2 388.7L606.3 389.7L606.4 390.7L606.5 391.7L606.6 392.6L606.7 393.6L606.8 394.6L606.9 395.6L607.0 396.6L607.0 397.6L607.1 398.6L607.2 399.6L607.3 400.6L607.4 401.6L607.5 402.6L607.6 403.6L607.7 404.6L607.8 405.6L607.9 406.6L607.9 407.6L608.0 408.6L608.1 409.6L608.2 410.6L608.3 411.6L608.4 412.6L608.5 413.6L608.6 414.6L608.6 415.6L608.7 416.6L608.8 417.5L608.9 418.5L609.0 419.5L609.1 420.5L609.2 421.5L609.2 422.5L609.3 423.5L609.4 424.5L609.5 425.5L609.6 426.5L609.7 427.5L609.8 428.5L609.9 429.5L610.0 430.5L610.1 431.5L610.2 432.5L610.3 433.5L610.4 434.5L610.5 435.5L610.6 436.5L610.7 437.5L610.8 438.5L610.9 439.5L611.0 440.4L611.1 441.4L611.2 442.4L611.3 443.4L611.4 444.4L611.5 445.4L611.6 446.4L611.7 447.4L611.8 448.4L611.9 449.4L612.1 450.4L612.2 451.4L612.3 452.4L612.4 453.4L612.5 454.4L612.6 455.4L612.7 456.3L612.9 457.3L613.0 458.3L613.1 459.3L613.2 460.3L613.4 461.3L613.5 462.3L613.6 463.3L613.8 464.3L613.9 465.3L614.0 466.3L614.2 467.3L614.3 468.2L614.5 469.2L614.6 470.2L614.7 471.2L614.9 472.2L615.0 473.2L615.2 474.2L615.3 475.2L615.5 476.2L615.6 477.2L615.8 478.1L615.9 479.1L616.1 480.1L616.2 481.1L616.4 482.1L616.5 483.1L616.7 484.1L616.8 485.1L617.0 486.0L617.2 487.0L617.3 488.0L617.5 489.0L617.6 490.0L617.8 491.0L617.9 492.0L618.1 492.9L618.2 493.9L618.4 494.9L618.5 495.9L618.7 496.9L618.8 497.9L619.0 498.9L619.2 499.9L619.3 500.8L619.5 501.8L619.7 502.8L619.9 503.8L620.1 504.8L620.3 505.8L620.5 506.8L620.7 507.7L620.9 508.7L621.2 509.7L621.4 510.7L621.6 511.7L621.9 512.6L622.1 513.6L622.4 514.6L622.7 515.5L623.0 516.5L623.3 517.4L623.6 518.3L624.0 519.3L624.4 520.2L624.8 521.1L625.2 522.0L625.6 522.8L626.1 523.7L626.7 524.6L627.2 525.5L627.9 526.4L628.6 527.1L629.4 527.8L630.2 528.2L631.2 528.4L632.2 528.3L633.2 528.0L634.0 527.5L634.8 527.0L635.5 526.3L636.2 525.5L636.9 524.7L637.6 523.9L638.3 523.2L639.0 522.5L639.7 521.8L640.5 521.1L641.2 520.4L641.8 519.7L642.5 519.0L643.1 518.2L643.7 517.4L644.3 516.6L644.9 515.8L645.5 515.0L646.1 514.2L646.7 513.4L647.3 512.5L647.9 511.7L648.6 511.0L649.2 510.2L649.9 509.5L650.6 508.8L651.4 508.1L652.2 507.5L653.1 507.0L654.1 506.6L655.0 506.4L656.0 506.4L656.9 506.7L657.9 507.1L658.8 507.6L659.6 508.2L660.4 508.9L661.1 509.6L661.7 510.3L662.3 511.1L663.0 511.9L663.6 512.7L664.2 513.5L664.8 514.3L665.4 515.1L666.0 515.9L666.6 516.7L667.2 517.5L667.8 518.3L668.5 519.1L669.1 519.8L669.7 520.6L670.3 521.4L670.9 522.2L671.5 523.0L672.2 523.8L672.8 524.5L673.4 525.3L674.1 526.1L674.7 526.8L675.4 527.6L676.0 528.4L676.7 529.1L677.4 529.8L678.1 530.5L678.9 531.2L679.6 531.9L680.4 532.5L681.2 533.1L682.0 533.6L682.9 534.1L683.8 534.6L684.7 535.0L685.6 535.4L686.6 535.7L687.5 536.0L688.5 536.3L689.5 536.5L690.4 536.6L691.4 536.7L692.5 536.8L693.5 536.8L693.6 536.8L693.6 536.9Z" fill="#008000" fill-opacity="0.25" stroke="#008000" stroke-width="1.39" stroke-linejoin="round"/>
<path d="M525.0 536.9L525.0 536.9L526.0 536.8L527.0 536.7L528.0 536.6L529.0 536.6L530.0 536.5L531.0 536.4L532.0 536.3L533.0 536.2L534.0 536.1L535.0 536.1L536.0 536.0L537.0 535.9L538.0 535.8L539.0 535.7L539.9 535.6L540.9 535.5L541.9 535.4L542.9 535.3L543.9 535.2L544.9 535.1L545.9 535.0L546.9 534.9L547.9 534.8L548.9 534.7L549.9 534.6L550.9 534.4L551.9 534.3L552.9 534.2L553.9 534.0L554.8 533.9L555.8 533.7L556.8 533.5L557.8 533.4L558.8 533.2L559.8 533.0L560.8 532.8L561.7 532.6L562.7 532.5L563.7 532.3L564.7 532.1L565.7 531.9L566.6 531.7L567.6 531.5L568.6 531.4L569.6 531.2L570.6 531.0L571.6 530.9L572.6 530.7L573.6 530.5L574.5 530.4L575.5 530.3L576.5 530.1L577.5 530.0L578.5 529.8L579.5 529.7L580.5 529.6L581.5 529.5L582.5 529.4L583.5 529.3L584.5 529.2L585.5 529.1L586.5 529.0L587.5 528.9L588.5 528.9L589.5 528.8L590.5 528.7L591.5 528.7L592.5 528.7L593.5 528.6L594.5 528.6L595.5 528.6L596.4 528.6L597.4 528.6L598.4 528.6L599.4 528.7L600.4 528.7L601.4 528.7L602.4 528.8L603.4 528.8L604.4 528.9L605.4 529.0L606.4 529.0L607.4 529.1L608.4 529.2L609.4 529.3L610.4 529.4L611.4 529.4L612.4 529.5L613.4 529.6L614.4 529.7L615.4 529.8L616.4 529.9L617.4 530.0L618.4 530.0L619.4 530.1L620.4 530.2L621.4 530.3L622.4 530.3L623.4 530.4L624.4 530.4L625.4 530.5L626.4 530.5L627.4 530.6L628.4 530.6L629.4 530.6L630.4 530.7L631.4 530.7L632.4 530.7L633.4 530.7L634.4 530.7L635.4 530.7L636.4 530.7L637.4 530.7L638.4 530.6L639.4 530.6L640.4 530.5L641.4 530.5L642.4 530.4L643.4 530.2L644.4 530.1L645.4 529.9L646.3 529.7L647.3 529.4L648.3 529.1L649.2 528.8L650.2 528.5L651.1 528.2L652.1 527.9L653.0 527.6L654.0 527.3L654.9 526.9L655.8 526.5L656.7 526.1L657.6 525.6L658.5 525.1L659.3 524.6L660.2 524.1L661.0 523.6L661.9 523.0L662.7 522.4L663.5 521.9L664.3 521.3L665.1 520.7L665.9 520.1L666.7 519.4L667.5 518.8L668.2 518.2L669.0 517.5L669.7 516.8L670.5 516.1L671.2 515.4L671.8 514.7L672.5 513.9L673.1 513.2L673.7 512.4L674.4 511.6L675.0 510.8L675.6 510.0L676.2 509.2L676.8 508.4L677.4 507.6L677.9 506.7L678.5 505.9L679.1 505.1L679.6 504.3L680.2 503.4L680.7 502.6L681.3 501.8L681.8 500.9L682.3 500.1L682.9 499.2L683.4 498.4L683.9 497.5L684.5 496.7L685.0 495.8L685.5 495.0L686.0 494.1L686.6 493.3L687.1 492.4L687.6 491.6L688.2 490.7L688.7 489.9L689.2 489.1L689.8 488.2L690.3 487.4L690.8 486.5L691.4 485.7L691.9 484.8L692.4 484.0L692.9 483.1L693.5 482.3L694.0 481.4L694.5 480.6L695.1 479.7L695.6 478.9L696.1 478.0L696.6 477.2L697.2 476.3L697.7 475.5L698.2 474.6L698.8 473.8L699.3 472.9L699.8 472.1L700.4 471.3L700.9 470.4L701.5 469.6L702.0 468.8L702.6 467.9L703.1 467.1L703.7 466.3L704.3 465.4L704.8 464.6L705.4 463.8L706.0 463.0L706.6 462.2L707.2 461.4L707.8 460.6L708.4 459.8L709.0 459.0L709.6 458.2L710.2 457.4L710.8 456.6L711.5 455.9L712.2 455.1L712.8 454.4L713.5 453.6L714.2 452.9L714.9 452.2L715.7 451.6L716.4 450.9L717.2 450.3L718.0 449.6L718.7 449.0L719.5 448.4L720.3 447.8L721.1 447.2L721.9 446.6L722.8 446.0L723.6 445.4L724.4 444.8L725.2 444.3L726.0 443.7L726.8 443.1L727.6 442.5L728.5 441.9L729.3 441.4L730.1 440.8L730.9 440.3L731.8 439.7L732.6 439.1L733.4 438.6L734.2 438.0L735.0 437.3L735.8 436.7L736.5 436.0L737.2 435.3L737.9 434.6L738.5 433.8L739.1 433.0L739.7 432.2L740.3 431.4L740.9 430.6L741.5 429.8L742.2 429.0L742.8 428.2L743.5 427.5L744.1 426.7L744.7 425.9L745.2 425.1L745.8 424.3L746.3 423.4L746.8 422.5L747.2 421.7L747.7 420.8L748.1 419.9L748.6 419.0L749.0 418.1L749.5 417.2L749.9 416.3L750.4 415.4L750.9 414.5L751.3 413.6L751.8 412.7L752.3 411.8L752.8 411.0L753.3 410.1L753.8 409.2L754.3 408.4L754.7 407.5L755.2 406.6L755.7 405.7L756.2 404.9L756.7 404.0L757.1 403.1L757.6 402.2L758.1 401.4L758.6 400.5L759.1 399.6L759.6 398.8L760.1 397.9L760.6 397.0L761.2 396.2L761.7 395.3L762.3 394.5L762.8 393.7L763.4 392.9L764.0 392.1L764.6 391.3L765.2 390.5L765.9 389.7L766.6 389.0L767.3 388.3L768.1 387.6L768.8 387.0L769.6 386.4L770.4 385.8L771.3 385.3L772.2 384.8L773.1 384.4L774.1 384.1L775.1 384.0L776.1 383.9L777.1 383.9L778.0 384.1L779.0 384.4L779.9 384.8L780.8 385.3L781.6 385.8L782.4 386.4L783.2 387.0L783.9 387.7L784.6 388.4L785.3 389.2L786.0 389.9L786.7 390.7L787.3 391.5L787.9 392.3L788.5 393.1L789.1 393.9L789.7 394.7L790.3 395.5L790.9 396.3L791.5 397.1L792.0 397.9L792.6 398.8L793.1 399.6L793.7 400.4L794.2 401.3L794.8 402.1L795.3 402.9L795.9 403.8L796.4 404.6L796.9 405.5L797.5 406.3L798.0 407.2L798.5 408.0L799.1 408.9L799.6 409.7L800.1 410.6L800.7 411.4L801.2 412.2L801.7 413.1L802.3 413.9L802.9 414.7L803.4 415.6L804.0 416.4L804.5 417.2L805.1 418.1L805.7 418.9L806.2 419.7L806.8 420.5L807.3 421.4L807.9 422.2L808.4 423.0L809.0 423.9L809.5 424.7L810.1 425.5L810.7 426.4L811.2 427.2L811.8 428.0L812.4 428.9L812.9 429.7L813.5 430.5L814.1 431.3L814.8 432.0L815.4 432.8L816.2 433.5L816.9 434.1L817.7 434.8L818.5 435.4L819.3 436.0L820.1 436.5L821.0 437.1L821.8 437.6L822.7 438.0L823.6 438.5L824.5 438.9L825.4 439.4L826.3 439.8L827.2 440.2L828.2 440.6L829.1 441.0L830.0 441.4L830.9 441.8L831.8 442.2L832.7 442.7L833.6 443.2L834.4 443.7L835.3 444.2L836.1 444.8L836.9 445.4L837.7 446.0L838.5 446.6L839.3 447.2L840.1 447.8L840.8 448.5L841.6 449.1L842.4 449.8L843.1 450.4L843.9 451.0L844.7 451.7L845.4 452.3L846.2 453.0L846.9 453.6L847.7 454.3L848.4 455.0L849.2 455.6L849.9 456.3L850.7 457.0L851.4 457.7L852.1 458.4L852.8 459.1L853.5 459.8L854.2 460.5L854.9 461.2L855.6 461.9L856.3 462.6L857.0 463.4L857.7 464.1L858.4 464.8L859.1 465.5L859.8 466.2L860.5 466.9L861.3 467.6L862.0 468.3L862.7 469.0L863.4 469.7L864.2 470.3L864.9 471.0L865.7 471.6L866.5 472.3L867.3 472.9L868.0 473.5L868.8 474.1L869.7 474.7L870.5 475.3L871.3 475.8L872.2 476.3L873.0 476.9L873.9 477.4L874.7 477.9L875.6 478.3L876.5 478.8L877.4 479.3L878.3 479.7L879.2 480.2L880.1 480.6L881.0 481.0L881.9 481.4L882.8 481.8L883.8 482.2L884.7 482.5L885.6 482.9L886.5 483.3L887.5 483.7L888.4 484.1L889.3 484.5L890.2 484.9L891.1 485.3L892.1 485.7L893.0 486.1L893.9 486.5L894.8 486.9L895.7 487.3L896.6 487.8L897.5 488.3L898.3 488.8L899.2 489.3L900.0 489.8L900.9 490.4L901.7 490.9L902.5 491.5L903.3 492.1L904.1 492.7L904.9 493.3L905.7 493.9L906.5 494.6L907.2 495.2L907.9 495.9L908.7 496.6L909.4 497.3L910.1 498.0L910.9 498.7L911.6 499.3L912.3 500.0L913.0 500.7L913.8 501.4L914.5 502.1L915.2 502.8L915.9 503.5L916.6 504.2L917.4 504.9L918.1 505.5L918.8 506.2L919.6 506.9L920.3 507.6L921.0 508.3L921.7 509.0L922.4 509.7L923.1 510.4L923.9 511.1L924.6 511.8L925.3 512.5L926.0 513.2L926.7 513.9L927.4 514.7L928.1 515.4L928.8 516.1L929.5 516.8L930.2 517.5L930.9 518.2L931.7 518.9L932.4 519.6L933.1 520.2L933.8 520.9L934.6 521.6L935.3 522.2L936.1 522.9L936.9 523.5L937.7 524.1L938.5 524.7L939.3 525.3L940.1 525.9L940.9 526.5L941.8 527.0L942.6 527.5L943.5 528.0L944.3 528.5L945.2 529.0L946.1 529.5L947.0 530.0L947.9 530.4L948.8 530.9L949.7 531.3L950.6 531.7L951.5 532.0L952.5 532.4L953.4 532.7L954.4 533.0L955.3 533.3L956.3 533.6L957.3 533.9L958.2 534.1L959.2 534.4L960.2 534.6L961.1 534.8L962.1 535.0L963.1 535.2L964.1 535.4L965.1 535.5L966.1 535.7L967.1 535.8L968.1 535.9L969.0 536.0L970.0 536.1L971.0 536.2L972.0 536.2L973.0 536.3L974.0 536.4L975.0 536.5L976.0 536.6L977.0 536.6L977.6 536.7L977.6 536.9Z" fill="#800080" fill-opacity="0.25" stroke="#800080" stroke-width="1.39" stroke-linejoin="round"/>
<path d="M284 536.9V32.0" stroke="#0000ff" stroke-width="2.08" stroke-dasharray="7.708 3.333" fill="none"/>
<path d="M216 536.9V32.0" stroke="#0000ff" stroke-width="2.08" stroke-dasharray="2.083 3.4375" fill="none"/>
<path d="M351 536.9V32.0" stroke="#0000ff" stroke-width="2.08" stroke-dasharray="2.083 3.4375" fill="none"/>
<path d="M584 536.9V32.0" stroke="#ff0000" stroke-width="2.08" stroke-dasharray="7.708 3.333" fill="none"/>
<path d="M525 536.9V32.0" stroke="#ff0000" stroke-width="2.08" stroke-dasharray="2.083 3.4375" fill="none"/>
<path d="M642 536.9V32.0" stroke="#ff0000" stroke-width="2.08" stroke-dasharray="2.083 3.4375" fill="none"/>
<path d="M556 536.9V32.0" stroke="#008000" stroke-width="2.08" stroke-dasharray="7.708 3.333" fill="none"/>
<path d="M521 536.9V32.0" stroke="#008000" stroke-width="2.08" stroke-dasharray="2.083 3.4375" fill="none"/>
<path d="M591 536.9V32.0" stroke="#008000" stroke-width="2.08" stroke-dasharray="2.083 3.4375" fill="none"/>
<path d="M786 536.9V32.0" stroke="#800080" stroke-width="2.08" stroke-dasharray="7.708 3.333" fill="none"/>
<path d="M721 536.9V32.0" stroke="#800080" stroke-width="2.08" stroke-dasharray="2.083 3.4375" fill="none"/>
<path d="M851 536.9V32.0" stroke="#800080" stroke-width="2.08" stroke-dasharray="2.083 3.4375" fill="none"/>
</g>
<rect x="57.5" y="32.5" width="963.0" height="505.0" fill="none" stroke="#000" stroke-width="1.11"/>
<path d="M201.50 537.5v4.86" stroke="#000" stroke-width="1.11"/>
<text x="201.60" y="557" font-size="13.89" letter-spacing="-0.3" text-anchor="middle">0.45</text>
<path d="M353.50 537.5v4.86" stroke="#000" stroke-width="1.11"/>
<text x="352.82" y="557" font-size="13.89" letter-spacing="-0.3" text-anchor="middle">0.50</text>
<path d="M504.50 537.5v4.86" stroke="#000" stroke-width="1.11"/>
<text x="504.04" y="557" font-size="13.89" letter-spacing="-0.3" text-anchor="middle">0.55</text>
<path d="M655.50 537.5v4.86" stroke="#000" stroke-width="1.11"/>
<text x="655.26" y="557" font-size="13.89" letter-spacing="-0.3" text-anchor="middle">0.60</text>
<path d="M806.50 537.5v4.86" stroke="#000" stroke-width="1.11"/>
<text x="806.48" y="557" font-size="13.89" letter-spacing="-0.3" text-anchor="middle">0.65</text>
<path d="M957.50 537.5v4.86" stroke="#000" stroke-width="1.11"/>
<text x="957.70" y="557" font-size="13.89" letter-spacing="-0.3" text-anchor="middle">0.70</text>
<path d="M57.5 537.50h-4.86" stroke="#000" stroke-width="1.11"/>
<text x="47.3" y="542.05" font-size="13.89" text-anchor="end">0</text>
<path d="M57.5 460.50h-4.86" stroke="#000" stroke-width="1.11"/>
<text x="47.3" y="465.05" font-size="13.89" text-anchor="end">10</text>
<path d="M57.5 383.50h-4.86" stroke="#000" stroke-width="1.11"/>
<text x="47.3" y="388.05" font-size="13.89" text-anchor="end">20</text>
<path d="M57.5 306.50h-4.86" stroke="#000" stroke-width="1.11"/>
<text x="47.3" y="311.05" font-size="13.89" text-anchor="end">30</text>
<path d="M57.5 229.50h-4.86" stroke="#000" stroke-width="1.11"/>
<text x="47.3" y="234.05" font-size="13.89" text-anchor="end">40</text>
<path d="M57.5 152.50h-4.86" stroke="#000" stroke-width="1.11"/>
<text x="47.3" y="157.05" font-size="13.89" text-anchor="end">50</text>
<path d="M57.5 75.50h-4.86" stroke="#000" stroke-width="1.11"/>
<text x="47.3" y="80.05" font-size="13.89" text-anchor="end">60</text>
<text x="538.4" y="576.8" font-size="13.89" letter-spacing="-0.1" text-anchor="middle">Accuracy</text>
<text transform="translate(19.6 284.9) rotate(-90)" font-size="13.89" text-anchor="middle">Probability Density</text>
<text transform="translate(539.3 23.9) scale(1 1.11)" font-size="16.67" text-anchor="middle">Probability Distribution of Model Accuracies</text>
<rect x="231.5" y="75.5" width="106.3" height="42.0" fill="#0000ff" fill-opacity="0.545" stroke="#000" stroke-opacity="0.55" stroke-width="1.3"/>
<text x="283.30" y="91.6" font-size="13.89" text-anchor="middle">Mean: 0.4772</text>
<text x="283.30" y="107.7" font-size="13.89" text-anchor="middle">SD: 0.0224</text>
<rect x="530.5" y="126.5" width="107.1" height="40.7" fill="#ff0000" fill-opacity="0.545" stroke="#000" stroke-opacity="0.55" stroke-width="1.3"/>
<text x="583.45" y="141.6" font-size="13.89" text-anchor="middle">Mean: 0.5764</text>
<text x="583.45" y="157.5" font-size="13.89" text-anchor="middle">SD: 0.0194</text>
<rect x="503.5" y="176.5" width="106.3" height="40.9" fill="#008000" fill-opacity="0.545" stroke="#000" stroke-opacity="0.55" stroke-width="1.3"/>
<text x="555.55" y="192.6" font-size="13.89" text-anchor="middle">Mean: 0.5673</text>
<text x="555.55" y="208.5" font-size="13.89" text-anchor="middle">SD: 0.0117</text>
<rect x="733.5" y="227.5" width="106.2" height="40.9" fill="#800080" fill-opacity="0.545" stroke="#000" stroke-opacity="0.55" stroke-width="1.3"/>
<text x="786.45" y="242.6" font-size="13.89" text-anchor="middle">Mean: 0.6434</text>
<text x="786.45" y="258.5" font-size="13.89" text-anchor="middle">SD: 0.0216</text>
<rect x="1027.5" y="241.5" width="153.2" height="87.6" rx="2.8" fill="#fff" fill-opacity="0.8" stroke="#ccc" stroke-opacity="0.8" stroke-width="1.2"/>
<rect x="1033.5" y="247.5" width="28" height="10" fill="#0000ff" fill-opacity="0.25"/>
<rect x="1033.5" y="247.5" width="28" height="10" fill="none" stroke="#0000ff" stroke-width="1.39"/>
<text x="1071.9" y="256.7" font-size="13.89">Stealth + RAG</text>
<rect x="1033.5" y="268.5" width="28" height="10" fill="#ff0000" fill-opacity="0.25"/>
<rect x="1033.5" y="268.5" width="28" height="10" fill="none" stroke="#ff0000" stroke-width="1.39"/>
<text x="1071.9" y="277.7" font-size="13.89">Nitro + RAG</text>
<rect x="1033.5" y="289.5" width="28" height="10" fill="#008000" fill-opacity="0.25"/>
<rect x="1033.5" y="289.5" width="28" height="10" fill="none" stroke="#008000" stroke-width="1.39"/>
<text x="1071.9" y="298.8" font-size="13.89">GPT-3.5 + RAG</text>
<rect x="1033.5" y="310.5" width="28" height="10" fill="#800080" fill-opacity="0.25"/>
<rect x="1033.5" y="310.5" width="28" height="10" fill="none" stroke="#800080" stroke-width="1.39"/>
<text x="1071.9" y="319.8" font-size="13.89">GPT-4 + RAG</text>
</svg></body></html>
